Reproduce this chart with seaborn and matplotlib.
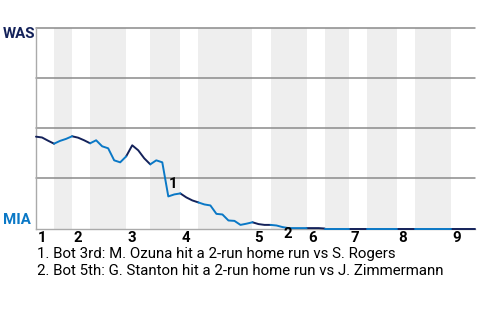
import matplotlib
matplotlib.use("Agg")
import matplotlib.pyplot as plt
import seaborn as sns
import pandas as pd

# ---- data ----
half_bounds = [0, 3, 6, 9, 15, 19, 24, 27, 36, 39, 45, 48, 52, 55, 60, 63, 69, 73]
inning_labels = ["1", "2", "3", "4", "5", "6", "7", "8", "9"]
was_wp = [0.458, 0.454, 0.438, 0.423, 0.437, 0.447, 0.46, 0.453, 0.44, 0.425,
          0.44, 0.41, 0.40, 0.34, 0.33, 0.36, 0.415, 0.39, 0.35, 0.32,
          0.34, 0.33, 0.16, 0.17, 0.175, 0.155, 0.14, 0.13, 0.12, 0.115,
          0.073, 0.07, 0.04, 0.038, 0.018, 0.024, 0.031, 0.022, 0.018, 0.018,
          0.015, 0.007, 0.002, 0.002, 0.002, 0.002, 0.002, 0.002] + [0.0] * 26
events = [(22, "1", "above"), (41, "2", "below")]
notes = ["1. Bot 3rd: M. Ozuna hit a 2-run home run vs S. Rogers",
         "2. Bot 5th: G. Stanton hit a 2-run home run vs J. Zimmermann"]
teams = ["WAS", "MIA"]

NAVY = "#14225A"
BLUE = "#0A78C6"
BAND = "#EEEEEE"
GRID = "#8A8A8A"
FS = 10.8

sns.set_style("white")
plt.rcParams["font.family"] = ["Roboto", "DejaVu Sans"]

rows = []
for h in range(len(half_bounds) - 1):
    a, b = half_bounds[h], half_bounds[h + 1]
    team = "WAS" if h % 2 == 0 else "MIA"
    for k in range(a, b + 1):
        rows.append({"x": k, "wp": was_wp[k], "half": h, "team": team})
df = pd.DataFrame(rows)

fig = plt.figure(figsize=(4.8, 3.2), dpi=100)
ax = fig.add_axes([36 / 480, 1 - 228.5 / 320, 439 / 480, 200.5 / 320])

# bands for bottom halves
for h in range(1, len(half_bounds) - 1, 2):
    ax.axvspan(half_bounds[h], half_bounds[h + 1], color=BAND, lw=0, zorder=0)

for yv in [0.25, 0.5, 0.75, 1.0]:
    ax.axhline(yv, color=GRID, lw=1.1, zorder=1, clip_on=False)

sns.lineplot(data=df, x="x", y="wp", hue="team", units="half", estimator=None,
             palette={"WAS": NAVY, "MIA": BLUE}, lw=1.4, legend=False, ax=ax,
             zorder=3, clip_on=False)
for line in ax.lines:
    line.set_clip_on(False)

ax.set_xlim(half_bounds[0], half_bounds[-1])
ax.set_ylim(0, 1)
ax.set_xticks([])
ax.set_yticks([])
ax.set_xlabel("")
ax.set_ylabel("")
for s in ["top", "right"]:
    ax.spines[s].set_visible(False)
for s in ["left", "bottom"]:
    ax.spines[s].set_color("#AAAAAA")
    ax.spines[s].set_linewidth(1.0)

# inning labels
trans = ax.get_xaxis_transform()
for i, lab in enumerate(inning_labels):
    xpos = half_bounds[2 * i]
    ax.annotate(lab, xy=(xpos, 0), xycoords=trans, xytext=(1.5, -13.5),
                textcoords="offset pixels", ha="left", va="baseline",
                fontsize=FS, fontweight="bold", color="black", annotation_clip=False)

# event markers
for k, lab, pos in events:
    if pos == "above":
        ax.annotate(lab, xy=(k, was_wp[k]), xytext=(0, 5), textcoords="offset pixels",
                    ha="left", va="bottom", fontsize=FS, fontweight="bold",
                    color="black", zorder=5, annotation_clip=False)
    else:
        ax.annotate(lab, xy=(k, was_wp[k]), xytext=(1, -11), textcoords="offset pixels",
                    ha="left", va="baseline", fontsize=FS, fontweight="bold",
                    color="black", zorder=5, annotation_clip=False)

fig.text(3 / 480, 1 - 38 / 320, teams[0], fontsize=FS, fontweight="bold",
         color=NAVY, ha="left", va="baseline")
fig.text(3 / 480, 1 - 224 / 320, teams[1], fontsize=FS, fontweight="bold",
         color=BLUE, ha="left", va="baseline")

fig.text(37 / 480, 1 - 258 / 320, notes[0], fontsize=FS, color="black",
         ha="left", va="baseline")
fig.text(37 / 480, 1 - 275 / 320, notes[1], fontsize=FS, color="black",
         ha="left", va="baseline")

fig.savefig("out.png", dpi=100)
